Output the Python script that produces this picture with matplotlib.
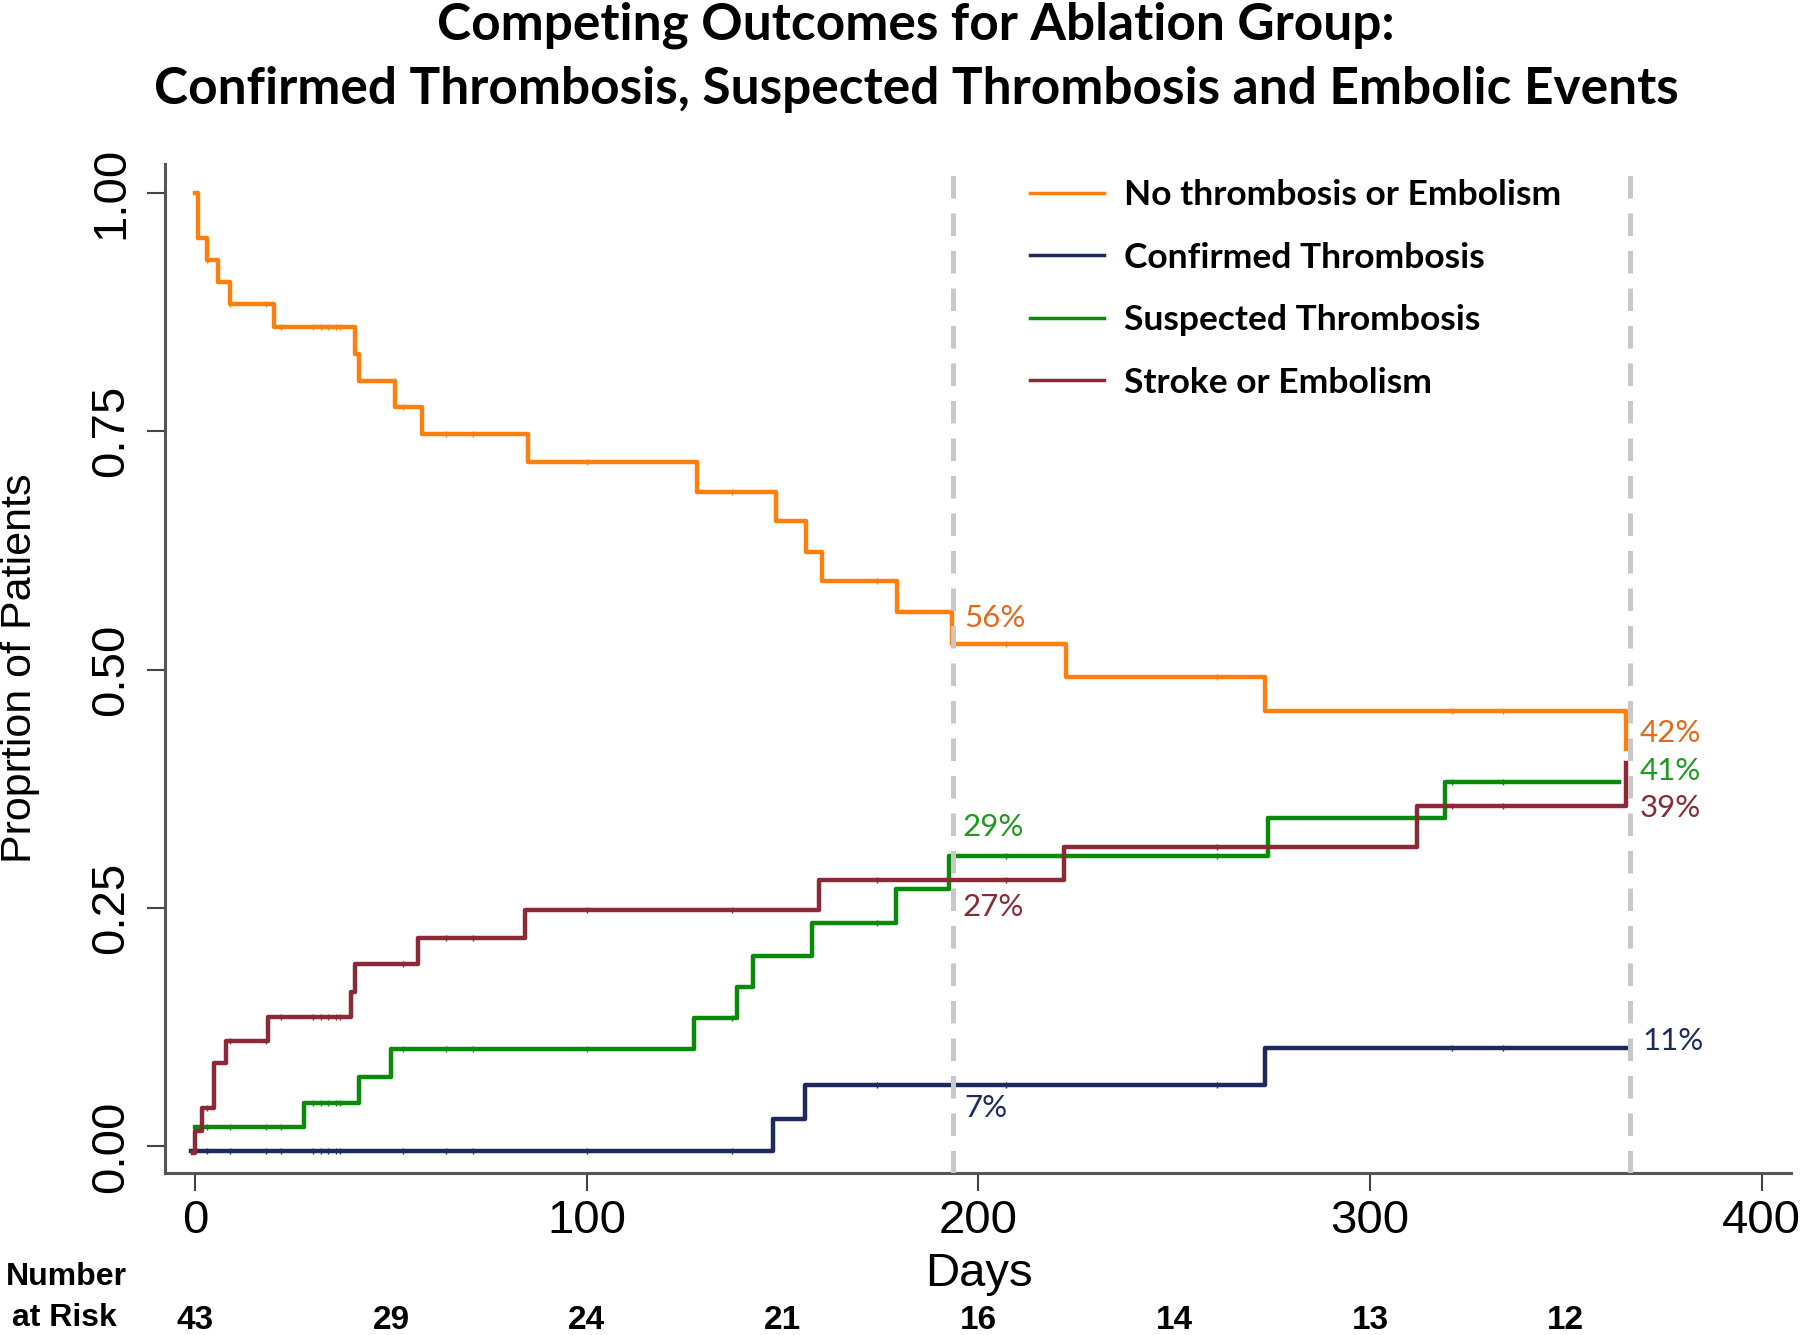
import numpy as np
import matplotlib.pyplot as plt
from matplotlib.transforms import blended_transform_factory

# step curves (days, proportion)
none_days = [0, 0.8, 2.9, 5.9, 8.9, 20.0, 40.8, 41.7, 51.0, 57.8, 84.9, 128.1, 148.2,
             156.0, 160.1, 179.1, 193.2, 222.3, 273.1, 365.4]
none_vals = [1.0, 0.953, 0.930, 0.906, 0.883, 0.859, 0.831, 0.803, 0.775, 0.747, 0.718,
             0.686, 0.656, 0.623, 0.593, 0.560, 0.527, 0.492, 0.457, 0.417]

conf_days = [-1, 147.5, 155.8, 273.1, 366.5]
conf_vals = [-0.005, 0.029, 0.064, 0.103, 0.103]

susp_days = [0, 27.9, 41.9, 49.9, 127.4, 138.3, 142.4, 157.4, 178.9, 192.5, 274.0, 319.2, 363.7]
susp_vals = [0.020, 0.045, 0.073, 0.102, 0.135, 0.167, 0.200, 0.234, 0.270, 0.305, 0.344,
             0.382, 0.382]

strk_days = [-0.5, 0, 1.8, 4.8, 7.9, 18.7, 39.8, 40.8, 57.0, 84.2, 159.4, 221.9, 312.1, 365.4]
strk_vals = [-0.007, 0.016, 0.040, 0.087, 0.110, 0.136, 0.162, 0.191, 0.218, 0.248, 0.279,
             0.314, 0.357, 0.402]

censor_days = [3, 9, 18, 22, 30, 32, 34, 36, 37, 53, 64, 71, 100, 137, 174, 207, 261, 321, 334]

risk_days = [0, 50, 100, 150, 200, 250, 300, 350]
risk_n = [43, 29, 24, 21, 16, 14, 13, 12]

landmarks = [193.4, 366.5]

# percentage labels: (day, y, text, colour)
pct_labels = [
    (196.4, 0.554, '56%', '#e2681c'),
    (195.9, 0.335, '29%', '#1e9a1e'),
    (195.9, 0.251, '27%', '#8a2a35'),
    (196.4, 0.040, '7%', '#1f2a5c'),
    (368.8, 0.434, '42%', '#e2681c'),
    (368.8, 0.394, '41%', '#1e9a1e'),
    (368.8, 0.355, '39%', '#8a2a35'),
    (369.5, 0.110, '11%', '#1f2a5c'),
]

series = [
    ('No thrombosis or Embolism', none_days, none_vals, '#ff7f0e'),
    ('Confirmed Thrombosis', conf_days, conf_vals, '#1f2a5c'),
    ('Suspected Thrombosis', susp_days, susp_vals, '#0a8a0a'),
    ('Stroke or Embolism', strk_days, strk_vals, '#8b2a36'),
]

narrow = ['Liberation Sans Narrow', 'Liberation Sans', 'DejaVu Sans']

fig = plt.figure(figsize=(18, 13.35), dpi=100)
ax = fig.add_axes([0.0917, 0.1213, 0.9033, 0.7557])

for name, d, v, c in series:
    ax.step(d, v, where='post', color=c, lw=3.2, label=name, zorder=3)
    d = np.array(d)
    v = np.array(v)
    cd = np.array([t for t in censor_days if t < d[-1]])
    idx = np.searchsorted(d, cd, side='right') - 1
    ax.plot(cd, v[idx], ls='none', marker='|', ms=4, mew=1.0, color=c, zorder=3)

for x in landmarks:
    ax.axvline(x, color='#c8c8c8', lw=3.6, ls=(0, (4.5, 3)), zorder=4)

for x, y, s, c in pct_labels:
    ax.text(x, y, s, color=c, fontsize=22.5, family='Lato', ha='left', va='center')

ax.set_xlim(-7.7, 407.5)
ax.set_ylim(-0.028, 1.03)
ax.set_xticks([0, 100, 200, 300, 400])
ax.set_yticks([0, 0.25, 0.5, 0.75, 1.0])
ax.set_yticklabels(['%.2f' % t for t in [0, 0.25, 0.5, 0.75, 1.0]], rotation=90, va='center')
for lab in ax.get_xticklabels() + ax.get_yticklabels():
    lab.set_family(narrow)
    lab.set_fontsize(34)
ax.tick_params(axis='both', length=13, width=1.5, color='#444444')
ax.tick_params(axis='x', pad=6)
ax.tick_params(axis='y', pad=10)
for s in ['top', 'right']:
    ax.spines[s].set_visible(False)
for s in ['left', 'bottom']:
    ax.spines[s].set_color('#555555')
    ax.spines[s].set_linewidth(2.2)

ax.set_xlabel('Days', fontsize=34, family=narrow)
ax.xaxis.set_label_coords(0.5003, -0.100)
ax.xaxis.label.set_va('center')
ax.set_ylabel('Proprtion of Patients', fontsize=31, family=narrow)
ax.yaxis.set_label_coords(-0.0892, 0.5)
ax.yaxis.label.set_va('center')

leg = ax.legend(loc='upper left', bbox_to_anchor=(0.532, 0.985), frameon=False,
                borderaxespad=0, borderpad=0, handlelength=2.1, handletextpad=0.55,
                labelspacing=0.86, prop={'family': 'Lato', 'weight': 'bold', 'size': 25.5})
for h in leg.get_lines():
    h.set_linewidth(2.5)

fig.text(0.509, 0.957,
         'Competing Outcomes for Ablation Group:\nConfirmed Thrombosis, Suspected Thrombosis and Embolic Events',
         ha='center', va='center', fontsize=37, family='Lato', weight='bold', linespacing=1.45)

# number at risk table
tr = blended_transform_factory(ax.transData, fig.transFigure)
for d, n in zip(risk_days, risk_n):
    ax.text(d, 0.0112, str(n), transform=tr, ha='center', va='center',
            fontsize=24, family=narrow, weight='bold')
fig.text(0.0367, 0.0434, 'Number', ha='center', va='center', fontsize=23, family=narrow, weight='bold')
fig.text(0.036, 0.0127, 'at Risk', ha='center', va='center', fontsize=23, family=narrow, weight='bold')

fig.savefig('out.png', dpi=100)
